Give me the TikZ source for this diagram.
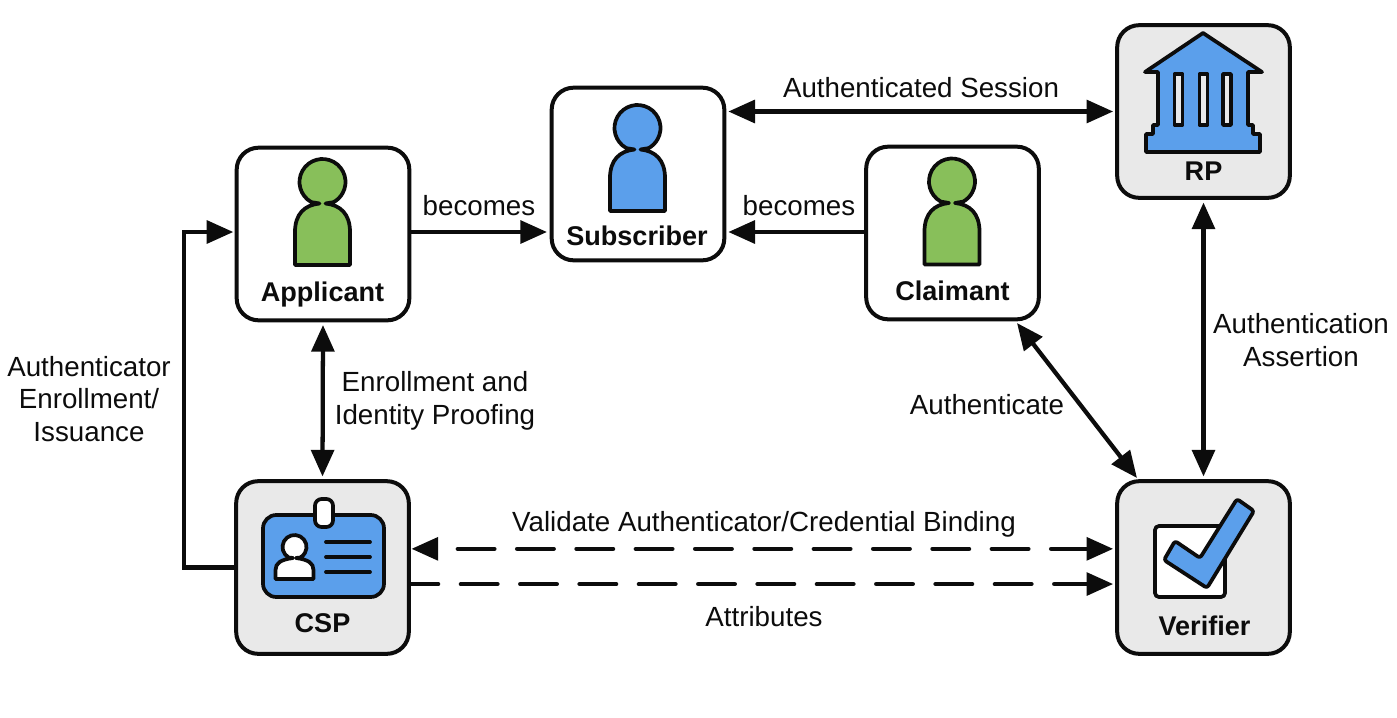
\documentclass[tikz,border=0pt]{standalone}
\usepackage{fontspec}
\setmainfont{Liberation Sans}
\usetikzlibrary{arrows.meta,calc}
\definecolor{boxgrey}{HTML}{E9E9E9}
\definecolor{iconblue}{HTML}{5B9FEB}
\definecolor{icongreen}{HTML}{88BF5A}
\definecolor{ink}{HTML}{0C0C0C}
\tikzset{
  x=0.75pt,y=-0.75pt,
  actor/.style={draw=ink,line width=3pt,rounded corners=16.5pt,minimum width=129.5pt,minimum height=129.5pt,inner sep=0pt,fill=white},
  service/.style={actor,fill=boxgrey},
  boxname/.style={font=\bfseries\fontsize{20.3pt}{22pt}\selectfont,text=ink,inner sep=0pt},
  tag/.style={font=\fontsize{20.8pt}{24.5pt}\selectfont,text=ink,align=center,inner sep=0pt},
  link/.style={draw=ink,line width=3.2pt,-{Triangle[length=20pt,width=17pt]}},
  biglink/.style={link,{Triangle[length=20pt,width=17pt]}-{Triangle[length=20pt,width=17pt]}},
  dashlink/.style={line cap=round,dash pattern=on 27.5pt off 17pt},
  icon/.style={draw=ink,line width=2.8pt,line join=round},
  person/.pic={
    \path[icon,fill=#1] (-27.5,46) -- (-27.5,13) .. controls (-27.5,-5) and (-18,-14) .. (-3,-15.5)
      -- (-11.15,-16.88)
      arc[start angle=119,end angle=421,radius=23]
      -- (3,-15.5)
      .. controls (18,-14) and (27.5,-5) .. (27.5,13) -- (27.5,46) -- cycle;
  }
}
\begin{document}
\begin{tikzpicture}
\useasboundingbox (0,0) rectangle (1397,718);
\node[actor] (app) at (323,234) {};
\node[actor] (sub) at (638,174) {};
\node[actor] (cla) at (952.5,233) {};
\node[service] (rp) at (1203.5,111.5) {};
\node[service] (csp) at (322.5,567.5) {};
\node[service] (ver) at (1203.5,567.5) {};
\coordinate (claS) at (1017,323);
\coordinate (verN) at (1137,478);
\coordinate (turnL) at (184,232);
% persons
\pic at (322.5,219) {person=icongreen};
\pic at (637.5,165) {person=iconblue};
\pic at (952,218.5) {person=icongreen};
% box names
\node[boxname] (appn) at (322.5,294) {Applicant};
\node[boxname] (subn) at (637,236) {Subscriber};
\node[boxname] (clan) at (952.5,291) {Claimant};
\node[boxname] (rpn) at (1203.5,171) {RP};
\node[boxname] (cspn) at (322.5,623) {CSP};
\node[boxname] (vern) at (1204.5,626) {Verifier};
% bank
\path[icon,fill=iconblue] (1203,33) -- (1262,72) -- (1248,72) -- (1248,125) -- (1253,125) -- (1253,134) -- (1260,134) -- (1260,152) -- (1146,152) -- (1146,134) -- (1153,134) -- (1153,125) -- (1158,125) -- (1158,72) -- (1145,72) -- cycle;
\foreach \cx in {1178.5,1203.5,1227}
  \path[icon,fill=boxgrey] (\cx-4,74) rectangle (\cx+4,125);
% card
\path[icon,fill=iconblue,rounded corners=10pt] (263,515) rectangle (384,597);
\path[icon,fill=white,rounded corners=5pt] (315,499) rectangle (333,527);
\path[icon,fill=white] (275.5,579) -- (275.5,570) .. controls (275.5,563) and (281,559.5) .. (293,558)
  -- (288.7,557.5) arc[start angle=119,end angle=421,radius=12]
  -- (296,558) .. controls (308,559.5) and (313.5,563) .. (313.5,570) -- (313.5,579) -- cycle;
\foreach \ly in {542,557,572}
  \draw[draw=ink,line width=2.8pt,line cap=round] (326,\ly) -- (370,\ly);
% check
\path[icon,fill=white,rounded corners=3pt] (1155,526) rectangle (1225,597);
\path[icon,fill=iconblue,rounded corners=2pt] (1237,499) -- (1254,511) -- (1207,588) -- (1164,560) -- (1175,541) -- (1200,558) -- cycle;
% connectors
\draw[link] (app.east |- turnL) -- ([xshift=-2pt]sub.west |- turnL);
\draw[link] (cla.west |- turnL) -- ([xshift=1.5pt]sub.east |- turnL);
\draw[biglink] ([xshift=1.5pt]sub.east |- rp.west) -- ([xshift=-1.5pt]rp.west);
\draw[biglink] ([yshift=-2pt]app.south) -- ([yshift=2pt]csp.north);
\draw[biglink] ([yshift=-2pt]rp.south) -- ([yshift=2pt]ver.north);
\draw[biglink] (claS) -- (verN);
\draw[link] (csp.west) -| (turnL) -- ([xshift=-1pt]app.west |- turnL);
\draw[biglink,dashlink,dash phase=29pt] ([shift={(0.5pt,14pt)}]csp.east) -- ([shift={(-1.5pt,14pt)}]ver.west);
\draw[link,dashlink,dash phase=7pt] ([yshift=-12.4pt]csp.east) -- ([shift={(-1.5pt,-12.4pt)}]ver.west);
% labels
\node[tag] (t1) at (921,88) {Authenticated Session};
\node[tag] (t2) at (479,206) {becomes};
\node[tag] (t3) at (799,206) {becomes};
\node[tag] (t4) at (435,401) {Enrollment and\\Identity Proofing};
\node[tag] (t5) at (89,399) {Authenticator\\Enrollment/\\Issuance};
\node[tag] (t6) at (1301,340) {Authentication\\Assertion};
\node[tag] (t7) at (987,404.5) {Authenticate};
\node[tag] (t8) at (764,524.5) {Validate Authenticator/Credential Binding};
\node[tag] (t9) at (764,617) {Attributes};
\end{tikzpicture}
\end{document}
